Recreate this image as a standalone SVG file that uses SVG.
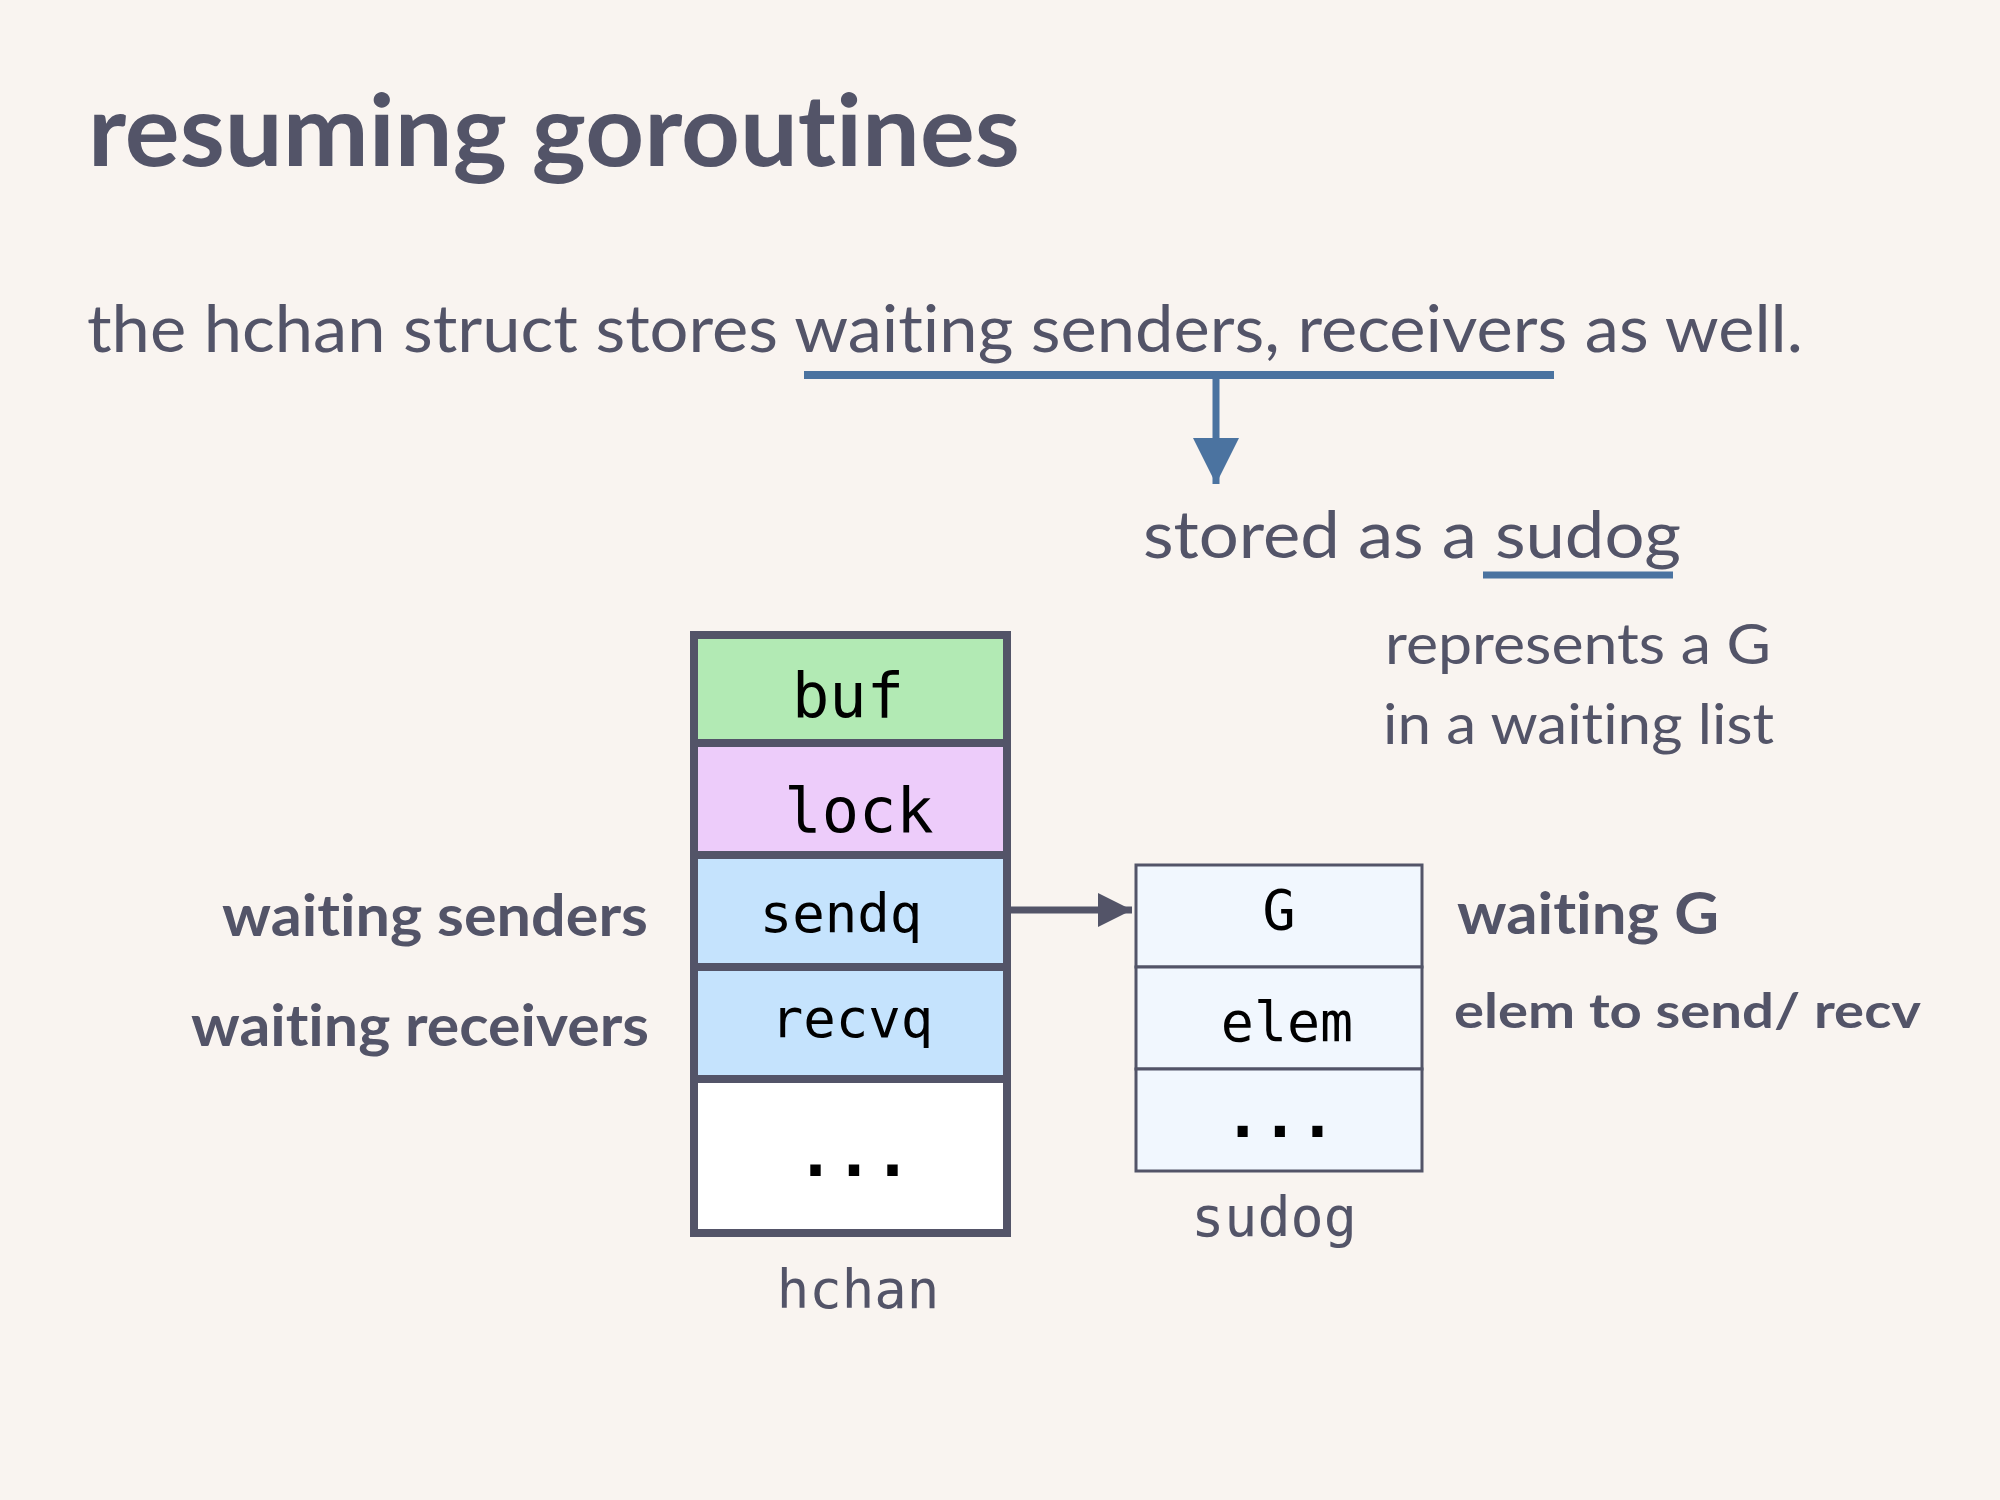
<svg xmlns="http://www.w3.org/2000/svg" width="2000" height="1500" viewBox="0 0 2000 1500">
<style>
text{font-variant-ligatures:none;font-feature-settings:"liga" 0,"clig" 0}
.sans{font-family:Lato,"Noto Sans","Liberation Sans",sans-serif;fill:#535468}
.bold{font-weight:700}
.mono{font-family:"DejaVu Sans Mono","Liberation Mono",monospace;fill:#000}
.dots{font-weight:700}
.monolabel{font-family:"DejaVu Sans Mono","Liberation Mono",monospace;fill:#535468}
.cell{stroke:#535468;stroke-width:8}
.scell{stroke:#535468;stroke-width:3}
.blue{stroke:#4b73a0;fill:none}
</style>
<defs>
<marker id="grayHead" markerUnits="userSpaceOnUse" markerWidth="36" markerHeight="34" refX="34" refY="17" orient="auto">
<path d="M0,0 L34,17 L0,34 Z" fill="#535468"/>
</marker>
<marker id="blueHead" markerUnits="userSpaceOnUse" markerWidth="48" markerHeight="48" refX="46" refY="24" orient="auto">
<path d="M0,1 L46,24 L0,47 Z" fill="#4b73a0"/>
</marker>
</defs>
<rect width="2000" height="1500" fill="#f9f4f0"/>
<g id="title">
<text class="sans bold" x="88" y="166" font-size="100" textLength="932" lengthAdjust="spacingAndGlyphs">resuming goroutines</text>
</g>
<g id="sentence">
<text class="sans" x="87" y="352" font-size="66" textLength="1716" lengthAdjust="spacingAndGlyphs">the hchan struct stores waiting senders, receivers as well.</text>
</g>
<g id="stored">
<text class="sans" x="1143" y="558" font-size="66" textLength="538" lengthAdjust="spacingAndGlyphs">stored as a sudog</text>
</g>
<g id="represents">
<text class="sans" x="1385" y="664" font-size="56" textLength="386" lengthAdjust="spacingAndGlyphs">represents a G</text>
<text class="sans" x="1383" y="744" font-size="56" textLength="391" lengthAdjust="spacingAndGlyphs">in a waiting list</text>
</g>
<g id="connectors">
<line class="blue" x1="804" y1="375" x2="1554" y2="375" stroke-width="8"/>
<line class="blue" x1="1216" y1="375" x2="1216" y2="484" stroke-width="7" marker-end="url(#blueHead)"/>
<line class="blue" x1="1483" y1="575" x2="1673" y2="575" stroke-width="7"/>
<line x1="1011" y1="910" x2="1132" y2="910" stroke="#535468" stroke-width="7" marker-end="url(#grayHead)"/>
</g>
<g id="hchan">
<rect class="cell" x="694" y="635" width="313" height="108" fill="#b2eab4"/>
<rect class="cell" x="694" y="743" width="313" height="112" fill="#edccfa"/>
<rect class="cell" x="694" y="855" width="313" height="112" fill="#c5e3fd"/>
<rect class="cell" x="694" y="967" width="313" height="112" fill="#c5e3fd"/>
<rect class="cell" x="694" y="1079" width="313" height="154" fill="#ffffff"/>
<text class="mono" x="848" y="717" font-size="62" text-anchor="middle">buf</text>
<text class="mono" x="859" y="832" font-size="62" text-anchor="middle">lock</text>
<text class="mono" x="841" y="932" font-size="54" text-anchor="middle">sendq</text>
<text class="mono" x="852" y="1037" font-size="54" text-anchor="middle">recvq</text>
<text class="mono dots" x="854" y="1176" font-size="64" text-anchor="middle">...</text>
<text class="monolabel" x="858" y="1308" font-size="54" text-anchor="middle">hchan</text>
</g>
<g id="labels-left">
<text class="sans bold" x="648" y="936" font-size="58" text-anchor="end" textLength="426" lengthAdjust="spacingAndGlyphs">waiting senders</text>
<text class="sans bold" x="649" y="1046" font-size="58" text-anchor="end" textLength="458" lengthAdjust="spacingAndGlyphs">waiting receivers</text>
</g>
<g id="sudog">
<rect class="scell" x="1136" y="865" width="286" height="102" fill="#f1f7fe"/>
<rect class="scell" x="1136" y="967" width="286" height="102" fill="#f1f7fe"/>
<rect class="scell" x="1136" y="1069" width="286" height="102" fill="#f1f7fe"/>
<text class="mono" x="1279" y="929" font-size="55" text-anchor="middle">G</text>
<text class="mono" x="1287" y="1041" font-size="55" text-anchor="middle">elem</text>
<text class="mono dots" x="1280" y="1137" font-size="62" text-anchor="middle">...</text>
<text class="monolabel" x="1274" y="1236" font-size="55" text-anchor="middle">sudog</text>
</g>
<g id="labels-right">
<text class="sans bold" x="1457" y="934" font-size="58" textLength="262" lengthAdjust="spacingAndGlyphs">waiting G</text>
<text class="sans bold" x="1454" y="1028" font-size="48" textLength="467" lengthAdjust="spacingAndGlyphs">elem to send/ recv</text>
</g>
</svg>
